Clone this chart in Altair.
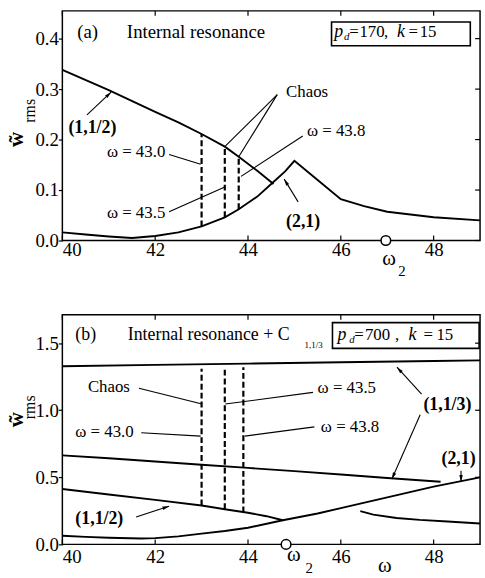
import math
import altair as alt
import pandas as pd

SERIF = "Liberation Serif"

# ---------------- data ----------------
x_ticks = [40, 42, 44, 46, 48]
ya_ticks = [0.0, 0.1, 0.2, 0.3, 0.4]
yb_ticks = [0.0, 0.5, 1.0, 1.5]

# panel (a): p_d = 170, k = 15
a_112_x = [40, 41, 42, 42.5, 43, 43.5, 43.8, 44.2, 44.55]
a_112_y = [0.338, 0.298, 0.255, 0.234, 0.211, 0.186, 0.166, 0.138, 0.112]
a_21_x = [40, 40.5, 41, 41.5, 42, 42.5, 43, 43.5, 43.8, 44.2, 44.5, 44.8, 45.0, 45.5, 46, 46.5, 47, 48, 49]
a_21_y = [0.016, 0.012, 0.008, 0.005, 0.009, 0.016, 0.028, 0.046, 0.062, 0.087, 0.112, 0.137, 0.158, 0.120, 0.082, 0.068, 0.057, 0.046, 0.040]
a_chaos_x = [43.0, 43.5, 43.8]
a_chaos_lo = [0.028, 0.046, 0.062]
a_chaos_hi = [0.211, 0.186, 0.166]
a_omega2 = 46.97

# panel (b): p_d = 700, k = 15
b_113u_x = [40, 42, 44, 46, 48, 49]
b_113u_y = [1.328, 1.338, 1.348, 1.358, 1.367, 1.372]
b_113l_x = [40, 41, 42, 43, 44, 45, 46, 47, 48.15]
b_113l_y = [0.664, 0.642, 0.618, 0.594, 0.570, 0.546, 0.521, 0.495, 0.467]
b_112_x = [40, 41, 42, 43, 43.5, 44, 44.4, 44.75]
b_112_y = [0.413, 0.372, 0.332, 0.290, 0.262, 0.236, 0.210, 0.180]
b_21_x = [40, 40.5, 41, 41.7, 42, 42.5, 43, 43.5, 44, 44.75, 45.5, 46, 47, 48, 49]
b_21_y = [0.064, 0.056, 0.049, 0.044, 0.047, 0.060, 0.080, 0.100, 0.124, 0.180, 0.230, 0.270, 0.350, 0.430, 0.500]
b_21r_x = [46.42, 46.7, 47.2, 47.7, 48.3, 49]
b_21r_y = [0.248, 0.222, 0.197, 0.183, 0.171, 0.156]
b_chaos_x = [43.0, 43.5, 43.9]
b_chaos_lo = [0.290, 0.262, 0.238]
b_chaos_hi = [1.31, 1.32, 1.32]
b_omega2 = 44.82

# ---------------- layout ----------------
W, H = 422, 232
XDOM = [40, 49]
KX = W / (XDOM[1] - XDOM[0])


def lines_df(series):
    rows = []
    for name, xs, ys in series:
        for x, y in zip(xs, ys):
            rows.append({"x": x, "y": y, "s": name})
    return pd.DataFrame(rows)


def panel(ydom, yticks, series, chaos, leaders, arrows, boxes, text_groups, omega2,
          label_pad, anchor=False):
    ky = H / (ydom[1] - ydom[0])
    xs = alt.Scale(domain=XDOM, nice=False, zero=False)
    ys = alt.Scale(domain=ydom, nice=False, zero=False)
    X = alt.X("x:Q", scale=xs, axis=alt.Axis(
        values=x_ticks, format="d", title=None, ticks=False, domain=False, grid=False,
        labelPadding=label_pad, labelFontSize=19, labelFont=SERIF, labelColor="black"))
    Y = alt.Y("y:Q", scale=ys, axis=alt.Axis(
        values=yticks, format=".1f", title=None, tickSize=4, tickColor="black",
        tickWidth=1.2, domain=False, grid=False, labelPadding=0, labelFontSize=19,
        labelFont=SERIF, labelColor="black", labelFlush=False))

    layers = []
    layers.append(alt.Chart(lines_df(series)).mark_line(color="black", strokeWidth=1.9)
                  .encode(x=X, y=Y, detail="s:N"))
    cx, clo, chi = chaos
    layers.append(alt.Chart(pd.DataFrame({"x": cx, "y": clo, "y2": chi}))
                  .mark_rule(color="black", strokeWidth=2.2, strokeDash=[6, 3])
                  .encode(x="x:Q", y="y:Q", y2="y2:Q"))
    segs = leaders + arrows
    layers.append(alt.Chart(pd.DataFrame(segs, columns=["x", "y", "x2", "y2"]))
                  .mark_rule(color="black", strokeWidth=1.1)
                  .encode(x="x:Q", y="y:Q", x2="x2:Q", y2="y2:Q"))
    hrows = []
    for (x1, y1, x2, y2) in arrows:
        dx = (x2 - x1) * KX
        dy = -(y2 - y1) * ky
        hrows.append({"x": x2, "y": y2, "ang": math.degrees(math.atan2(dx, -dy)) % 360})
    layers.append(alt.Chart(pd.DataFrame(hrows))
                  .mark_point(shape="M0,0L-0.42,1.6L0.42,1.6Z", filled=True, color="black",
                              size=70, opacity=1, strokeWidth=0)
                  .encode(x="x:Q", y="y:Q", angle=alt.Angle("ang:Q", scale=None)))
    layers.append(alt.Chart(pd.DataFrame(boxes, columns=["x", "x2", "y", "y2"]))
                  .mark_rect(fill="white", stroke="black", strokeWidth=1.6)
                  .encode(x="x:Q", x2="x2:Q", y="y:Q", y2="y2:Q"))
    # inward ticks: top, bottom, right
    tx = pd.DataFrame({"x": x_ticks})
    layers.append(alt.Chart(tx).mark_rule(color="black", strokeWidth=1.2)
                  .encode(x="x:Q", y=alt.value(0), y2=alt.value(5)))
    layers.append(alt.Chart(tx).mark_rule(color="black", strokeWidth=1.2)
                  .encode(x="x:Q", y=alt.value(H), y2=alt.value(H - 5)))
    layers.append(alt.Chart(pd.DataFrame({"y": yticks})).mark_rule(color="black", strokeWidth=1.2)
                  .encode(y="y:Q", x=alt.value(W), x2=alt.value(W - 5)))
    for rows, style in text_groups:
        st = dict(font=SERIF, color="black", baseline="middle")
        st.update(style)
        layers.append(alt.Chart(pd.DataFrame(rows, columns=["x", "y", "t"]))
                      .mark_text(**st).encode(x="x:Q", y="y:Q", text="t:N"))
    layers.append(alt.Chart(pd.DataFrame({"x": [omega2], "y": [0.0]}))
                  .mark_point(shape="circle", filled=True, fill="white", stroke="black",
                              strokeWidth=1.5, size=95, opacity=1)
                  .encode(x="x:Q", y="y:Q"))
    if anchor:
        ax = XDOM[0] - 62 / KX
        ay = ydom[1] + 7 / ky
        layers.append(alt.Chart(pd.DataFrame({"x": [ax], "y": [ay]}))
                      .mark_rule(strokeOpacity=0, strokeWidth=0.1)
                      .encode(x="x:Q", x2="x:Q", y="y:Q", y2="y:Q"))
    return alt.layer(*layers).properties(width=W, height=H)


OM = "\u03c9"
WT = "w\u0303"

panel_a = panel(
    [0, 0.455], ya_ticks,
    [("(1,1/2)", a_112_x, a_112_y), ("(2,1)", a_21_x, a_21_y)],
    (a_chaos_x, a_chaos_lo, a_chaos_hi),
    [(44.63, 0.289, 43.5, 0.186), (44.63, 0.289, 43.8, 0.166),
     (42.30, 0.1706, 42.98, 0.151), (42.30, 0.0569, 43.5, 0.106),
     (45.18, 0.207, 43.85, 0.127)],
    [(40.53, 0.249, 41.05, 0.294), (45.08, 0.0765, 44.78, 0.1216)],
    [(45.80, 48.79, 0.433, 0.386)],
    [
        ([(40.32, 0.414, "(a)"), (41.39, 0.414, "Internal resonance")], dict(fontSize=19, align="left")),
        ([(44.82, 0.294, "Chaos"), (40.96, 0.1745, OM + " = 43.0"), (40.96, 0.055, OM + " = 43.5"),
          (45.27, 0.2176, OM + " = 43.8")], dict(fontSize=17, align="left")),
        ([(40.13, 0.2235, "(1,1/2)"), (44.82, 0.037, "(2,1)")], dict(fontSize=18, align="left", fontWeight="bold")),
        ([(45.86, 0.413, "p"), (47.21, 0.413, "k")], dict(fontSize=18, align="left", fontStyle="italic")),
        ([(46.07, 0.403, "d")], dict(fontSize=11, align="left", fontStyle="italic")),
        ([(46.18, 0.413, "="), (46.40, 0.413, "170"), (46.93, 0.413, ","),
          (47.46, 0.413, "="), (47.70, 0.413, "15")], dict(fontSize=17, align="left")),
        ([(47.04, -0.037, OM)], dict(fontSize=21, align="center")),
        ([(47.315, -0.061, "2")], dict(fontSize=15, align="center")),
        ([(39.02, 0.20, WT)], dict(fontSize=21, align="center", angle=270, fontWeight="bold")),
        ([(39.31, 0.257, "rms")], dict(fontSize=16, align="center", angle=270)),
    ],
    a_omega2, 0, anchor=True)

panel_b = panel(
    [0, 1.712], yb_ticks,
    [("(1,1/3)u", b_113u_x, b_113u_y), ("(1,1/3)l", b_113l_x, b_113l_y),
     ("(1,1/2)", b_112_x, b_112_y), ("(2,1)", b_21_x, b_21_y), ("(2,1)r", b_21r_x, b_21r_y)],
    (b_chaos_x, b_chaos_lo, b_chaos_hi),
    [(41.65, 1.164, 43.01, 1.046), (45.40, 1.133, 43.51, 1.046),
     (41.70, 0.832, 42.98, 0.807), (45.43, 0.876, 43.93, 0.807)],
    [(47.74, 1.120, 47.21, 1.321), (47.71, 0.967, 47.10, 0.487),
     (48.59, 0.548, 48.59, 0.467), (41.59, 0.204, 42.30, 0.285)],
    [(45.82, 48.98, 1.653, 1.461)],
    [
        ([(40.28, 1.557, "(b)"), (41.41, 1.557, "Internal resonance + C")], dict(fontSize=18, align="left")),
        ([(45.22, 1.483, "1,1/3")], dict(fontSize=9, align="left")),
        ([(40.55, 1.173, "Chaos"), (45.50, 1.166, OM + " = 43.5"), (40.28, 0.834, OM + " = 43.0"),
          (45.57, 0.878, OM + " = 43.8")], dict(fontSize=17, align="left")),
        ([(47.78, 1.041, "(1,1/3)"), (48.17, 0.635, "(2,1)"), (40.28, 0.192, "(1,1/2)")],
         dict(fontSize=18, align="left", fontWeight="bold")),
        ([(45.93, 1.557, "p"), (47.46, 1.557, "k")], dict(fontSize=18, align="left", fontStyle="italic")),
        ([(46.18, 1.527, "d")], dict(fontSize=11, align="left", fontStyle="italic")),
        ([(46.29, 1.557, "="), (46.52, 1.557, "700"), (47.17, 1.557, ","),
          (47.78, 1.557, "="), (48.06, 1.557, "15")], dict(fontSize=17, align="left")),
        ([(44.99, -0.081, OM), (46.95, -0.162, OM)], dict(fontSize=21, align="center")),
        ([(45.32, -0.177, "2")], dict(fontSize=15, align="center")),
        ([(39.02, 0.93, WT)], dict(fontSize=21, align="center", angle=270, fontWeight="bold")),
        ([(39.31, 1.022, "rms")], dict(fontSize=16, align="center", angle=270)),
    ],
    b_omega2, 3)

chart = alt.vconcat(panel_a, panel_b, spacing=75, bounds="flush").configure(
    padding=0, background="white"
).configure_view(stroke="black", strokeWidth=1.5)

chart.save("out.html", embed_options={"renderer": "svg", "actions": False})
